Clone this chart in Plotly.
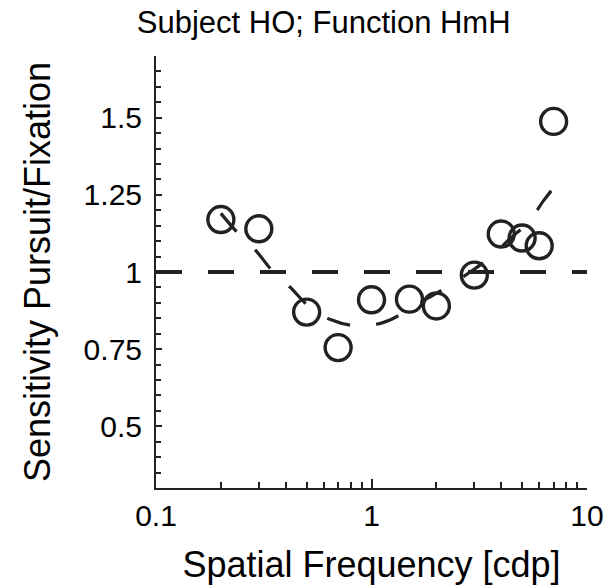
import plotly.graph_objects as go

# Measured data
freq = [0.2, 0.3, 0.5, 0.7, 1.0, 1.5, 2.0, 3.0, 4.0, 5.0, 6.0, 7.0]
ratio = [1.17, 1.14, 0.87, 0.755, 0.91, 0.912, 0.89, 0.99, 1.123, 1.11, 1.085, 1.488]

# Fitted curve
fit_x = [0.2, 0.237, 0.29, 0.35, 0.42, 0.51, 0.65, 0.84, 1.13, 1.47, 1.82, 2.29, 2.87, 3.6, 4.27, 5.4, 6.3, 7.05]
fit_y = [1.19, 1.13, 1.07, 1.0, 0.95, 0.89, 0.845, 0.826, 0.836, 0.875, 0.915, 0.955, 1.0, 1.05, 1.1, 1.165, 1.232, 1.275]

# Reference line
ref_x = [0.1, 10]
ref_y = [1, 1]

xtick_vals = [0.1, 1, 10]
xtick_text = ["0.1", "1", "10"]
xminor_vals = [0.2, 0.3, 0.4, 0.5, 0.6, 0.7, 0.8, 0.9, 2, 3, 4, 5, 6, 7, 8, 9]
ytick_vals = [0.5, 0.75, 1, 1.25, 1.5]
ytick_text = ["0.5", "0.75", "1", "1.25", "1.5"]

INK = "#222222"
FONT = "Liberation Sans, Arial, sans-serif"

fig = go.Figure()
fig.add_trace(go.Scatter(x=ref_x, y=ref_y, mode="lines",
                         line=dict(color=INK, width=4, dash="26px,26px"),
                         hoverinfo="skip", showlegend=False))
fig.add_trace(go.Scatter(x=fit_x, y=fit_y, mode="lines",
                         line=dict(color=INK, width=3.2, dash="24px,26px", shape="spline", smoothing=1.0),
                         hoverinfo="skip", showlegend=False))
fig.add_trace(go.Scatter(x=freq, y=ratio, mode="markers",
                         marker=dict(symbol="circle-open", size=26, color=INK,
                                     line=dict(color=INK, width=3.4)),
                         showlegend=False))

fig.update_layout(
    width=605, height=585,
    margin=dict(l=156, r=18, t=56, b=97, autoexpand=False),
    paper_bgcolor="white", plot_bgcolor="white",
    font=dict(family=FONT, size=30, color="black"),
    title=dict(text="Subject HO; Function HmH", x=0.535, xref="container", xanchor="center",
               y=0.962, yref="container", yanchor="middle",
               font=dict(family=FONT, size=31, color="black")),
    xaxis=dict(type="log", range=[-1, 1], showline=True, linecolor=INK, linewidth=2,
               automargin=False, mirror=False, showgrid=False, zeroline=False,
               tickmode="array", tickvals=xtick_vals, ticktext=xtick_text,
               ticks="inside", ticklen=9, tickwidth=2, tickcolor=INK,
               tickfont=dict(size=30, color="black"),
               minor=dict(tickmode="array", tickvals=xminor_vals, ticks="inside",
                          ticklen=6, tickwidth=2, tickcolor=INK, showgrid=False),
               title=dict(text="Spatial Frequency [cdp]", standoff=21,
                          font=dict(size=36, color="black"))),
    yaxis=dict(range=[0.3, 1.7], showline=True, linecolor=INK, linewidth=2,
               automargin=False, showgrid=False, zeroline=False,
               tickmode="array", tickvals=ytick_vals, ticktext=ytick_text,
               ticks="inside", ticklen=6, tickwidth=2, tickcolor=INK,
               tickfont=dict(size=30, color="black"),
               ticklabelstandoff=6,
               minor=dict(tickmode="linear", tick0=0.3, dtick=0.05, ticks="inside",
                          ticklen=5, tickwidth=2, tickcolor=INK, showgrid=False),
               title=dict(text="Sensitivity Pursuit/Fixation", standoff=22,
                          font=dict(size=36, color="black"))),
)

fig.write_html("out.html")
